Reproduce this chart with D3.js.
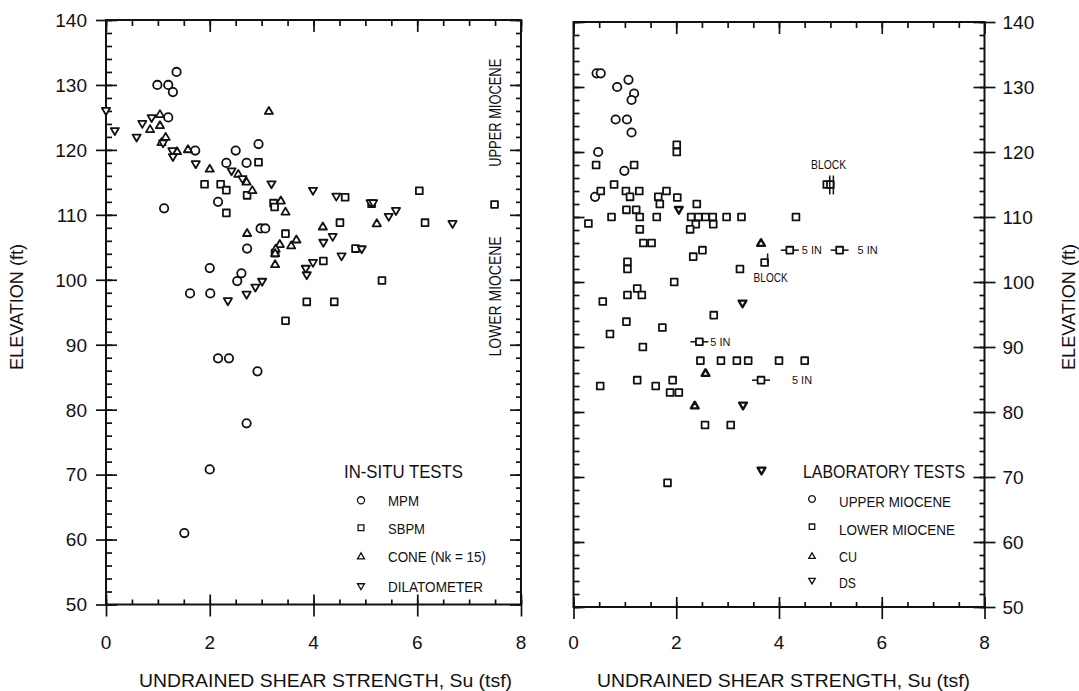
<!DOCTYPE html>
<html>
<head>
<meta charset="utf-8">
<script src="https://cdn.jsdelivr.net/npm/d3@7"></script>
<style>
  html, body { margin: 0; padding: 0; background: #fff; }
  svg { display: block; }
  text { font-family: "Liberation Sans", Arial, Helvetica, sans-serif; fill: #111; }
</style>
</head>
<body>
<svg id="chart" width="1079" height="691"></svg>
<script>
// ---------- data : [Su (tsf), elevation (ft)] ----------
// In-situ tests
const mpm = [
  [1.36,132],[0.99,130],[1.2,130],[1.29,128.9],[1.2,125],[1.72,119.9],[2.5,119.9],
  [2.94,120.9],[2.32,118],[2.71,118],[2.16,112],[1.12,111],[2.98,107.9],[3.07,107.9],
  [2.72,104.8],[2.61,101],[2.53,99.8],[2.0,101.8],[2.01,97.9],[1.62,97.9],[2.16,87.9],
  [2.37,87.9],[2.92,85.9],[2.71,77.9],[2.0,70.8],[1.51,61.0]
];
const sbpm = [
  [2.94,118.1],[1.9,114.7],[2.21,114.7],[2.32,113.8],[2.72,113.0],[2.32,110.3],
  [3.23,111.8],[3.25,111.2],[4.61,112.7],[5.12,111.7],[6.04,113.7],[7.49,111.6],
  [4.51,108.8],[6.15,108.8],[3.46,107.1],[3.26,104.1],[4.81,104.8],[4.19,102.9],
  [5.32,99.9],[3.87,96.6],[4.4,96.6],[3.46,93.7]
];
const cone = [
  [3.14,126],[1.04,125.5],[0.85,123.2],[1.04,123.8],[1.15,122],[1.07,121.2],[1.37,119.8],
  [1.58,120.1],[2.0,117.1],[2.55,116.3],[2.71,115.1],[2.82,113.8],[3.37,112.2],[3.46,110.5],
  [2.72,107.2],[4.18,108.2],[5.22,108.7],[3.67,106.2],[3.57,105.3],[3.35,105.5],
  [3.27,104.8],[3.26,104.1],[3.26,102.4]
];
const dilatometer = [
  [0.0,126],[0.17,122.9],[0.59,121.9],[0.7,124],[0.88,124.9],[1.1,121],[1.28,119.8],
  [1.29,118.9],[1.73,117.8],[2.42,116.7],[2.63,115.5],[3.19,114.7],[3.99,113.7],
  [4.44,112.8],[5.1,111.8],[5.15,111.8],[5.45,109.7],[5.59,110.6],[6.68,108.6],
  [4.37,106.6],[4.19,105.7],[4.93,104.7],[4.54,103.6],[3.99,102.6],[3.85,101.7],
  [3.87,100.7],[2.35,96.7],[2.71,97.7],[2.88,98.8],[3.01,99.7]
];

// Laboratory tests
const upperMiocene = [
  [0.45,132.1],[0.53,132.1],[0.85,130],[1.07,131.1],[1.18,129],[1.13,128],[0.82,125],
  [1.04,125],[1.13,123],[0.48,120],[0.99,117.1],[0.42,113.1]
];
const lowerMiocene = [
  [2.01,121.1],[2.01,120],[0.44,118],[1.18,118],[0.79,115],[0.53,114],[1.02,114],
  [1.28,114],[1.1,113.1],[1.81,114],[1.65,113.1],[1.68,112],[2.02,113],[2.4,112],
  [1.03,111.1],[1.22,111.1],
  [0.74,110],[1.29,110],[1.62,110],[2.29,110],[2.43,110],[2.57,110],[2.71,110],
  [2.98,110],[3.27,110],[4.33,110],
  [0.29,109],[1.29,108.1],[2.38,108.9],[2.72,108.9],[2.27,108.1],[1.36,106],[1.52,106],
  [2.51,104.9],[2.33,103.9],[3.24,102],[1.05,103.1],[1.05,102],[1.96,100],[1.24,99],
  [1.05,98],[1.33,98],[0.57,97],[2.73,94.9],[1.03,93.9],[1.73,93],[0.71,92],[1.35,90],
  [2.47,87.9],[2.87,87.9],[3.18,87.9],[3.4,87.9],[4.0,87.9],[4.5,87.9],
  [0.52,84],[1.24,84.9],[1.6,84],[1.93,84.9],[1.88,83],[2.05,83],[2.56,78],[3.06,78],
  [1.83,69.1]
];
// 5 in. specimens (drawn with a horizontal bar)
const fiveInch = [[4.21,104.9],[5.18,104.9],[2.45,90.8],[3.65,84.9]];
// block samples (drawn with a vertical bar)
const blockSamples = [[3.72,103],[4.93,115],[5.0,115]];
const cu = [[3.65,106],[2.57,86],[2.36,81]];
const ds = [[2.05,111.1],[3.29,96.7],[3.3,81],[3.66,71]];

// axis ticks / labels
const xMajor = [0, 2, 4, 6, 8];
const xMinor = d3.range(0, 8.01, 0.5);
const yMajor = d3.range(50, 141, 10);
const yMinor = d3.range(50, 141, 2);
const xTitle = "UNDRAINED SHEAR STRENGTH, Su (tsf)";
const yTitle = "ELEVATION (ft)";

const legendInSitu = ["MPM", "SBPM", "CONE (Nk = 15)", "DILATOMETER"];
const legendLab = ["UPPER MIOCENE", "LOWER MIOCENE", "CU", "DS"];

// ---------- layout ----------
const svg = d3.select("#chart");
const panels = {
  left:  { x0: 106,   x1: 521,   yTop: 20, yBot: 604.5 },
  right: { x0: 573.5, x1: 984.5, yTop: 22, yBot: 607 }
};
function scalesFor(p) {
  return {
    x: d3.scaleLinear().domain([0, 8]).range([p.x0, p.x1]),
    y: d3.scaleLinear().domain([50, 140]).range([p.yBot, p.yTop])
  };
}
const SL = scalesFor(panels.left);
const SR = scalesFor(panels.right);

// ---------- marker shapes ----------
function markerPath(type, k = 1) {
  const p = d3.path();
  if (type === "circle") {
    const r = 4.2 * k; p.moveTo(r, 0); p.arc(0, 0, r, 0, 2 * Math.PI);
  } else if (type === "square") {
    const s = 3.4 * k; p.rect(-s, -s, 2 * s, 2 * s);
  } else if (type === "up") {
    p.moveTo(0, -4 * k); p.lineTo(4.1 * k, 3 * k); p.lineTo(-4.1 * k, 3 * k); p.closePath();
  } else if (type === "down") {
    p.moveTo(0, 4 * k); p.lineTo(4.1 * k, -3 * k); p.lineTo(-4.1 * k, -3 * k); p.closePath();
  }
  return p.toString();
}
function drawPoints(g, S, data, type, opts = {}) {
  g.append("g").selectAll("path").data(data).join("path")
    .attr("transform", d => `translate(${S.x(d[0])},${S.y(d[1])})`)
    .attr("d", markerPath(type, opts.k || 1))
    .attr("fill", "#fff")
    .attr("stroke", "#111")
    .attr("stroke-width", opts.sw || 1.8)
    .attr("stroke-linejoin", "round");
}

// ---------- frame & ticks ----------
function tickSet(g, axisFn, scale, values, size, tx, ty) {
  g.append("g")
    .attr("transform", `translate(${tx},${ty})`)
    .call(axisFn(scale).tickValues(values).tickSize(size).tickSizeOuter(0).tickFormat(""))
    .call(s => s.select(".domain").remove())
    .call(s => s.selectAll("line").attr("stroke", "#111").attr("stroke-width", 1.7));
}
function frame(g, p, cfg) {
  const S = scalesFor(p);
  g.append("rect")
    .attr("x", p.x0).attr("y", p.yTop)
    .attr("width", p.x1 - p.x0).attr("height", p.yBot - p.yTop)
    .attr("fill", "none").attr("stroke", "#111").attr("stroke-width", 2);
  // bottom: majors cross the axis, minors point up
  tickSet(g, d3.axisBottom, S.x, xMajor, 12, 0, p.yBot);
  tickSet(g, d3.axisTop, S.x, xMajor, 10, 0, p.yBot);
  tickSet(g, d3.axisTop, S.x, xMinor, 5, 0, p.yBot);
  // top: inward
  tickSet(g, d3.axisBottom, S.x, xMajor, 12, 0, p.yTop);
  tickSet(g, d3.axisBottom, S.x, xMinor, 6, 0, p.yTop);
  // left side
  tickSet(g, d3.axisRight, S.y, yMajor, 11, p.x0, 0);
  tickSet(g, d3.axisRight, S.y, yMinor, 6, p.x0, 0);
  if (cfg.leftCross) tickSet(g, d3.axisLeft, S.y, yMajor, 10, p.x0, 0);
  // right side
  tickSet(g, d3.axisLeft, S.y, yMajor, 11, p.x1, 0);
  tickSet(g, d3.axisLeft, S.y, yMinor, 5, p.x1, 0);
  if (cfg.rightCross) tickSet(g, d3.axisRight, S.y, yMajor, 11, p.x1, 0);

  // numeric labels
  const lab = g.append("g").attr("font-family", "DejaVu Sans, sans-serif").attr("font-size", 19);
  lab.selectAll("text.xl").data(xMajor).join("text")
    .attr("class", "xl")
    .attr("x", d => S.x(d)).attr("y", 649)
    .attr("text-anchor", "middle").text(d => d);
  lab.selectAll("text.yl").data(yMajor).join("text")
    .attr("class", "yl")
    .attr("x", cfg.yLabelSide === "left" ? p.x0 - 19 : p.x1 + 18)
    .attr("y", d => S.y(d)).attr("dy", "0.36em")
    .attr("text-anchor", cfg.yLabelSide === "left" ? "end" : "start")
    .text(d => d);
  return S;
}

const gL = svg.append("g");
const gR = svg.append("g");
frame(gL, panels.left, { leftCross: true, rightCross: false, yLabelSide: "left" });
frame(gR, panels.right, { leftCross: false, rightCross: true, yLabelSide: "right" });

// ---------- axis titles ----------
svg.append("text").attr("x", 139).attr("y", 687)
  .attr("font-size", 19).attr("textLength", 373).attr("lengthAdjust", "spacingAndGlyphs")
  .text("UNDRAINED SHEAR STRENGTH, Su  (tsf)");
svg.append("text").attr("x", 597).attr("y", 687)
  .attr("font-size", 19).attr("textLength", 373).attr("lengthAdjust", "spacingAndGlyphs")
  .text(xTitle);
svg.append("text").attr("transform", "translate(23,307) rotate(-90)")
  .attr("text-anchor", "middle").attr("font-size", 19)
  .attr("textLength", 126).attr("lengthAdjust", "spacingAndGlyphs").text(yTitle);
svg.append("text").attr("transform", "translate(1075,307) rotate(-90)")
  .attr("text-anchor", "middle").attr("font-size", 19)
  .attr("textLength", 126).attr("lengthAdjust", "spacingAndGlyphs").text(yTitle);

// ---------- left panel : in-situ tests ----------
drawPoints(gL, SL, mpm, "circle");
drawPoints(gL, SL, sbpm, "square");
drawPoints(gL, SL, cone, "up");
drawPoints(gL, SL, dilatometer, "down");

// formation labels along the right edge
gL.append("text").attr("transform", `translate(${SL.x(7.62)},${SL.y(117.4)}) rotate(-90)`)
  .attr("font-size", 17).attr("textLength", 108).attr("lengthAdjust", "spacingAndGlyphs")
  .text("UPPER MIOCENE");
gL.append("text").attr("transform", `translate(${SL.x(7.62)},${SL.y(88.2)}) rotate(-90)`)
  .attr("font-size", 17).attr("textLength", 120).attr("lengthAdjust", "spacingAndGlyphs")
  .text("LOWER MIOCENE");

// legend
const legL = gL.append("g");
legL.append("text").attr("x", 344).attr("y", 478.3).attr("font-size", 18.5)
  .attr("textLength", 119).attr("lengthAdjust", "spacingAndGlyphs").text("IN-SITU TESTS");
const legLTypes = ["circle", "square", "up", "down"];
const legLY = [506.3, 533.7, 562.3, 592.3];
const legLW = [31, 37, 98, 95];
legendInSitu.forEach((t, i) => {
  legL.append("path").attr("transform", `translate(361,${legLY[i] - 6})`)
    .attr("d", markerPath(legLTypes[i], 0.85)).attr("fill", "#fff")
    .attr("stroke", "#111").attr("stroke-width", 1.3);
  legL.append("text").attr("x", 388).attr("y", legLY[i]).attr("font-size", 15.5)
    .attr("textLength", legLW[i]).attr("lengthAdjust", "spacingAndGlyphs").text(t);
});

// ---------- right panel : laboratory tests ----------
drawPoints(gR, SR, upperMiocene, "circle");
drawPoints(gR, SR, lowerMiocene, "square");

// 5 in. specimens
const fi = gR.append("g");
fi.selectAll("line").data(fiveInch).join("line")
  .attr("x1", d => SR.x(d[0]) - 9).attr("x2", d => SR.x(d[0]) + 9)
  .attr("y1", d => SR.y(d[1])).attr("y2", d => SR.y(d[1]))
  .attr("stroke", "#111").attr("stroke-width", 1.5);
drawPoints(fi, SR, fiveInch, "square");
const fiveLabelGap = [12, 18, 11, 31];
fi.selectAll("text").data(fiveInch).join("text")
  .attr("x", (d, i) => SR.x(d[0]) + fiveLabelGap[i])
  .attr("y", d => SR.y(d[1])).attr("dy", "0.36em")
  .attr("font-size", 11.5).attr("textLength", 20).attr("lengthAdjust", "spacingAndGlyphs")
  .text("5 IN");

// block samples
const bl = gR.append("g");
drawPoints(bl, SR, blockSamples, "square");
bl.selectAll("line").data(blockSamples).join("line")
  .attr("x1", d => SR.x(d[0]) + 3).attr("x2", d => SR.x(d[0]) + 3)
  .attr("y1", d => SR.y(d[1]) - 9).attr("y2", d => SR.y(d[1]) + (d[1] > 110 ? 10 : 1))
  .attr("stroke", "#111").attr("stroke-width", 1.5);
bl.append("text").attr("x", SR.x(3.72) + 6).attr("y", SR.y(103) + 19)
  .attr("text-anchor", "middle").attr("font-size", 12)
  .attr("textLength", 34).attr("lengthAdjust", "spacingAndGlyphs").text("BLOCK");
bl.append("text").attr("x", SR.x(4.965)).attr("y", SR.y(115) - 16)
  .attr("text-anchor", "middle").attr("font-size", 12)
  .attr("textLength", 35).attr("lengthAdjust", "spacingAndGlyphs").text("BLOCK");

drawPoints(gR, SR, cu, "up", { k: 0.95, sw: 2.4 });
drawPoints(gR, SR, ds, "down", { k: 0.95, sw: 2.4 });

// legend
const legR = gR.append("g");
legR.append("text").attr("x", 803).attr("y", 478.3).attr("font-size", 18.5)
  .attr("textLength", 162).attr("lengthAdjust", "spacingAndGlyphs").text("LABORATORY TESTS");
const legRY = [507.3, 534.7, 562.3, 588];
const legRSym = [499, 526.7, 556, 580.7];
const legRW = [112, 116, 18, 17];
legendLab.forEach((t, i) => {
  legR.append("path").attr("transform", `translate(812,${legRSym[i]})`)
    .attr("d", markerPath(legLTypes[i], 0.8)).attr("fill", "#fff")
    .attr("stroke", "#111").attr("stroke-width", 1.3);
  legR.append("text").attr("x", 839).attr("y", legRY[i]).attr("font-size", 15.5)
    .attr("textLength", legRW[i]).attr("lengthAdjust", "spacingAndGlyphs").text(t);
});
</script>
</body>
</html>
